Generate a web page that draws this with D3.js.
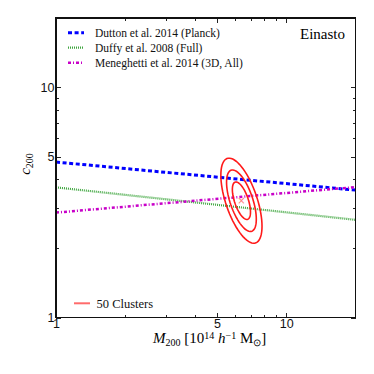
<!DOCTYPE html>
<meta charset="utf-8">
<style>
body { margin: 0; background: white; }
svg { font-family: "Liberation Serif", serif; }
.axis path, .axis line { stroke: #222; stroke-width: 1; shape-rendering: crispEdges; }
.axis text { font-size: 12.5px; fill: #111; }
.frame { fill: none; stroke: #111; stroke-width: 1.2; shape-rendering: crispEdges; }
.rel { fill: none; }
#dutton { stroke: #0000ff; stroke-width: 3; stroke-dasharray: 4,2.6; }
#duffy { stroke: #3fa63f; stroke-width: 2.2; stroke-dasharray: 1,1; }
#meneghetti { stroke: #c800c8; stroke-width: 2.5; stroke-dasharray: 3,2,1,2; }
.contour { fill: none; stroke: #ff1a1a; stroke-width: 1.6; }
.legend text { font-size: 11.5px; fill: #111; }
</style>
<body>
<script src="https://d3js.org/d3.v7.min.js"></script>
<script>
// mass range of the relations, 10^14 h^-1 Msun
var masses = [1, 20];
// c200 at the two ends
var duttonC = [4.74, 3.58];
var duffyC = [3.68, 2.66];
var meneghettiC = [2.86, 3.69];

var legendNames = ["Dutton et al. 2014 (Planck)", "Duffy et al. 2008 (Full)", "Meneghetti et al. 2014 (3D, All)"];
var legendIds = ["dutton", "duffy", "meneghetti"];

// 50-cluster stack: centre and spread in log space
var fitM = 6.39, fitC = 3.22;
var sigLogM = 0.026, sigLogC = 0.0537, rho = -0.6;
var levels = [1.515, 2.486, 3.439];   // 68, 95, 99.7 per cent

var xTicks = [1, 5, 10], yTicks = [1, 5, 10];
var minorTicks = [2, 3, 4, 6, 7, 8, 9];

var pLeft = 56, pRight = 355.5, pTop = 18, pBottom = 317.7;

var svg = d3.select("body").append("svg")
	.attr("width", 374)
	.attr("height", 374);

var x = d3.scaleLog().domain([1, 20]).range([pLeft, pRight]);
var y = d3.scaleLog().domain([1, 20]).range([pBottom, pTop]);

// relations
var line = d3.line()
	.x(function(d) { return x(d[0]); })
	.y(function(d) { return y(d[1]); });

[duttonC, duffyC, meneghettiC].forEach(function(c, i) {
	svg.append("path")
		.attr("class", "rel")
		.attr("id", legendIds[i])
		.attr("d", line(masses.map(function(m, j) { return [m, c[j]]; })));
});

// contours
levels.forEach(function(k) {
	var pts = d3.range(0, 73).map(function(i) {
		var t = i / 72 * 2 * Math.PI;
		var u = Math.cos(t), v = Math.sin(t);
		var lm = Math.log10(fitM) + k * sigLogM * u;
		var lc = Math.log10(fitC) + k * sigLogC * (rho * u + Math.sqrt(1 - rho * rho) * v);
		return [Math.pow(10, lm), Math.pow(10, lc)];
	});
	svg.append("path")
		.attr("class", "contour")
		.attr("d", line(pts));
});

// cross at the centre
svg.append("text")
	.attr("x", x(fitM))
	.attr("y", y(fitC))
	.attr("dy", "0.33em")
	.attr("text-anchor", "middle")
	.style("font-family", "DejaVu Sans")
	.style("font-size", "10px")
	.style("fill", "#ff7a7a")
	.text("\u00d7");

// axes, ticks pointing in
function addAxis(axisFn, scale, transform, major, labels) {
	var g = svg.append("g").attr("class", "axis").attr("transform", transform);
	g.call(axisFn(scale).tickValues(major).tickSize(-4.5).tickPadding(labels ? 1.5 : 0)
		.tickFormat(labels ? d3.format("d") : ""));
	g.select(".domain").remove();
	var gm = svg.append("g").attr("class", "axis").attr("transform", transform);
	gm.call(axisFn(scale).tickValues(minorTicks).tickSize(-2.5).tickFormat(""));
	gm.select(".domain").remove();
}
addAxis(d3.axisBottom, x, "translate(0," + pBottom + ")", xTicks, true);
addAxis(d3.axisTop, x, "translate(0," + pTop + ")", xTicks, false);
addAxis(d3.axisLeft, y, "translate(" + pLeft + ",0)", yTicks, true);
addAxis(d3.axisRight, y, "translate(" + pRight + ",0)", yTicks, false);

svg.append("rect")
	.attr("class", "frame")
	.attr("x", pLeft).attr("y", pTop)
	.attr("width", pRight - pLeft).attr("height", pBottom - pTop);

// legend
var legend = svg.append("g").attr("class", "legend");
legendNames.forEach(function(name, i) {
	var ly = 32.7 + i * 15;
	legend.append("line")
		.attr("class", "rel")
		.attr("id", legendIds[i])
		.attr("x1", 68).attr("x2", 84)
		.attr("y1", ly).attr("y2", ly);
	legend.append("text")
		.attr("x", 95).attr("y", ly)
		.attr("dy", "0.35em")
		.text(name);
});

legend.append("line")
	.attr("x1", 74).attr("x2", 90)
	.attr("y1", 303.3).attr("y2", 303.3)
	.style("stroke", "#ff6b6b")
	.style("stroke-width", 2);
legend.append("text")
	.attr("x", 96.5).attr("y", 303.3)
	.attr("dy", "0.35em")
	.style("font-size", "12.5px")
	.text("50 Clusters");

svg.append("text")
	.attr("x", 345).attr("y", 39.3)
	.attr("text-anchor", "end")
	.style("font-size", "15px")
	.text("Einasto");

// axis titles
var xl = svg.append("text")
	.attr("x", 209.7).attr("y", 343)
	.attr("text-anchor", "middle")
	.style("font-size", "15px");
xl.append("tspan").style("font-style", "italic").text("M");
xl.append("tspan").attr("dy", 3).style("font-size", "10px").text("200");
xl.append("tspan").attr("dy", -3).text(" [10");
xl.append("tspan").attr("dy", -4.5).style("font-size", "10px").text("14");
xl.append("tspan").attr("dy", 4.5).style("font-style", "italic").text(" h");
xl.append("tspan").attr("dy", -4.5).style("font-size", "10px").text("\u22121");
xl.append("tspan").attr("dy", 4.5).text(" M");
xl.append("tspan").attr("dy", 3).style("font-size", "10px").text("\u2299");
xl.append("tspan").attr("dy", -3).text("]");

var yl = svg.append("text")
	.attr("transform", "translate(30,164) rotate(-90)")
	.attr("text-anchor", "middle")
	.style("font-size", "15px");
yl.append("tspan").style("font-style", "italic").text("c");
yl.append("tspan").attr("dy", 3).style("font-size", "10px").text("200");
</script>
